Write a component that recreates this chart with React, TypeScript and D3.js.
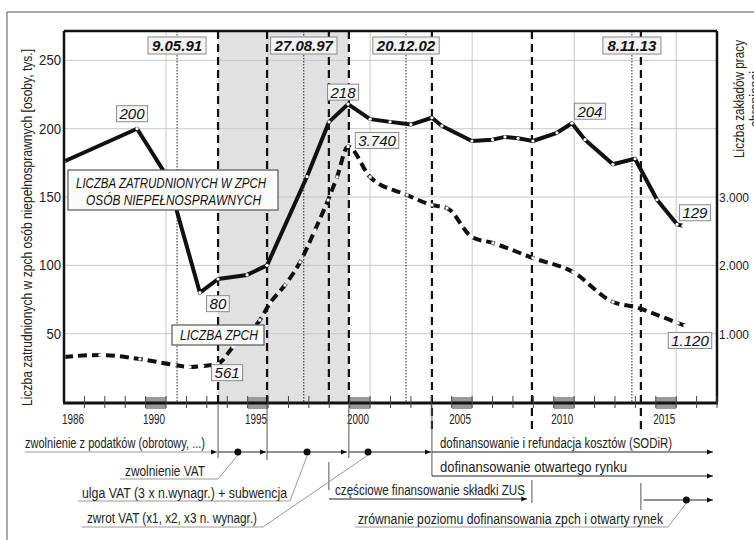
import React from 'react';
import * as d3 from 'd3';

// ---------- data ----------
const solidYears = [1985.0, 1988.58, 1990.05, 1991.66, 1992.55, 1993.97, 1994.95, 1996.91, 1997.99, 1998.92, 2000.0, 2000.98, 2002.0, 2003.03, 2003.52, 2004.99, 2006.0, 2006.61, 2007.25, 2007.98, 2009.16, 2009.89, 2010.53, 2011.9, 2012.98, 2014.06, 2015.04, 2015.33];
const solidValues = [176, 200, 165, 80, 90, 93, 100, 165, 205, 218, 207, 205, 203, 208, 202, 191, 192, 194, 193, 191, 197, 204, 192, 174, 178, 148, 130, 129];

const zpchYears = [1985.0, 1986.76, 1988.72, 1990.44, 1991.17, 1991.8, 1992.55, 1993.28, 1994.6, 1995.1, 1995.83, 1996.57, 1997.3, 1997.94, 1998.38, 1998.92, 2000.0, 2001.81, 2003.03, 2003.77, 2004.99, 2006.02, 2007.98, 2009.94, 2011.9, 2012.98, 2015.09, 2015.43];
const zpchValues = [659, 688, 629, 542, 512, 527, 561, 805, 1200, 1449, 1712, 2049, 2517, 2956, 3293, 3740, 3293, 3030, 2883, 2839, 2415, 2327, 2108, 1903, 1464, 1390, 1156, 1120];

const leftTicks = [50, 100, 150, 200, 250];
const rightTicks = [1000, 2000, 3000];
const rightTickLabels = ['1.000', '2.000', '3.000'];
const xTickYears = [1990, 1995, 2000, 2005, 2010, 2015];
const firstYearLabel = '1986';

const dottedDates = [1990.54, 1996.75, 2001.76, 2012.83];
const dateLabels = ['9.05.91', '27.08.97', '20.12.02', '8.11.13'];
const dashedDates = [1992.55, 1994.95, 1997.98, 1998.96, 2003.03, 2007.93, 2013.27];
const longDashedDates = [2003.03, 2007.93, 2013.27];
const shadedPeriod = [1992.55, 1998.96];

const solidLabelTexts = ['200', '80', '218', '204', '129'];
const solidLabelIdx = [1, 3, 9, 21, 27];
const zpchLabelTexts = ['561', '3.740', '1.120'];
const zpchLabelIdx = [6, 15, 27];

const titleLeft = 'Liczba zatrudnionych w zpch osób niepełnosprawnych [osoby, tys.]';
const titleRight1 = 'Liczba zakładów pracy';
const titleRight2 = 'chronionej';
const seriesLabel1 = ['LICZBA ZATRUDNIONYCH W ZPCH', 'OSÓB NIEPEŁNOSPRAWNYCH'];
const seriesLabel2 = 'LICZBA ZPCH';

// ---------- layout ----------
const W = 754, H = 540;
const L = 64, R = 717, T = 31, B = 402;
const SANS = "'Liberation Sans', Arial, sans-serif";

const solidLabelOff = [[-5, -15], [18, 11], [-5, -12], [18, -12], [12, -13]];
const zpchLabelOff = [[9, 9], [29, -6], [5, 15]];

function estW(s: string, size: number) {
  let w = 0;
  for (const ch of s) w += (ch === '.' || ch === ',') ? 0.278 : 0.556;
  return w * size;
}

function NT(props: any) {
  const { len, size = 14, italic, children, ...rest } = props;
  return (
    <text {...rest} textLength={len} lengthAdjust="spacingAndGlyphs" fontFamily={SANS} fontSize={size}
      fontStyle={italic ? 'italic' : undefined} fill={rest.fill || '#222'}>{children}</text>
  );
}

export default function App() {
  const x = d3.scaleLinear().domain([1985, 2017]).range([L, R]);
  const yL = d3.scaleLinear().domain([0, 271.5]).range([B, T]);
  const yR = d3.scaleLinear().domain([0, 5430]).range([B, T]);

  const solidLine = d3.line<number>().x((_, i) => x(solidYears[i])).y(d => yL(d)).curve(d3.curveLinear);
  const zpchLine = d3.line<number>().x((_, i) => x(zpchYears[i])).y(d => yR(d)).curve(d3.curveMonotoneX);

  const minorYears = d3.range(1986, 2018);

  const numBox = (key: string, cx: number, cy: number, t: string) => {
    const w = estW(t, 15) + 6;
    return (
      <g key={key}>
        <rect x={cx - w / 2} y={cy - 8} width={w} height={16} fill="#f7f7f7" stroke="#8a8a8a" strokeWidth={1} />
        <text x={cx} y={cy + 5.5} textAnchor="middle" fontFamily={SANS} fontStyle="italic" fontSize={15} fill="#111">{t}</text>
      </g>
    );
  };

  const rowY1 = 452, rowY2 = 476, rowY3 = 499, rowY4 = 500;

  return (
    <svg width={W} height={H} style={{ position: 'absolute', left: 0, top: 0, background: '#fff' }}>
      <defs>
        <marker id="arr" viewBox="0 0 6 6" refX={6} refY={3} markerWidth={6} markerHeight={6} markerUnits="userSpaceOnUse" orient="auto">
          <path d="M0,0.5 L6,3 L0,5.5 z" fill="#111" />
        </marker>
      </defs>
      {/* frame */}
      <line x1={7} y1={12} x2={W} y2={12} stroke="#555" strokeWidth={1} />
      <line x1={7} y1={12} x2={7} y2={H} stroke="#555" strokeWidth={1} />

      {/* shaded period */}
      <rect x={x(shadedPeriod[0])} y={T} width={x(shadedPeriod[1]) - x(shadedPeriod[0])} height={B - T} fill="#e1e1e1" />

      {/* grid */}
      {leftTicks.map(v => <line key={'hg' + v} x1={L} x2={R} y1={yL(v)} y2={yL(v)} stroke="#c8c8c8" strokeWidth={1} />)}
      {xTickYears.map(v => <line key={'vg' + v} x1={x(v)} x2={x(v)} y1={T} y2={B} stroke="#c8c8c8" strokeWidth={1} />)}

      {/* x label bars */}
      {xTickYears.map(v => <rect key={'xb' + v} x={x(v - 1)} y={397} width={x(v) - x(v - 1)} height={12} fill="#9a9a9a" />)}

      {/* event lines */}
      {dottedDates.map(d => <line key={'dt' + d} x1={x(d)} x2={x(d)} y1={T} y2={B} stroke="#222" strokeWidth={1} strokeDasharray="1.5,1.5" />)}
      {dashedDates.map(d => (
        <line key={'ds' + d} x1={x(d)} x2={x(d)} y1={T} y2={longDashedDates.includes(d) ? 430 : B} stroke="#111" strokeWidth={2.2} strokeDasharray="8,5" />
      ))}

      {/* series */}
      <path d={zpchLine(zpchValues) || ''} fill="none" stroke="#111" strokeWidth={4} strokeDasharray="9,5" />
      {zpchValues.map((v, i) => <rect key={'zm' + i} x={x(zpchYears[i]) - 1.5} y={yR(v) - 1.5} width={3} height={3} fill="#fff" />)}
      <path d={solidLine(solidValues) || ''} fill="none" stroke="#111" strokeWidth={4} strokeLinejoin="round" />
      {solidValues.map((v, i) => <circle key={'sm' + i} cx={x(solidYears[i])} cy={yL(v)} r={1.6} fill="#fff" />)}

      {/* plot border */}
      <line x1={L} x2={R} y1={T} y2={T} stroke="#111" strokeWidth={2.5} />
      <line x1={L} x2={L} y1={T} y2={B} stroke="#111" strokeWidth={2.5} />
      <line x1={R} x2={R} y1={T} y2={B} stroke="#111" strokeWidth={2.5} />
      <line x1={L - 1} x2={R + 1} y1={B + 1} y2={B + 1} stroke="#111" strokeWidth={3} />
      {minorYears.map(v => <line key={'mt' + v} x1={x(v)} x2={x(v)} y1={396} y2={408} stroke="#444" strokeWidth={1} />)}

      {/* tick labels */}
      {leftTicks.map(v => <NT key={'lt' + v} x={61} y={yL(v) + 5} textAnchor="end" size={15} len={String(v).length * 7.3}>{v}</NT>)}
      {rightTicks.map((v, i) => <NT key={'rt' + v} x={719} y={yR(v) + 5} size={13} len={30}>{rightTickLabels[i]}</NT>)}
      <NT x={62} y={424} size={15} len={22}>{firstYearLabel}</NT>
      {xTickYears.map(v => <NT key={'xt' + v} x={x(v) - 23} y={424} size={15} len={22}>{v}</NT>)}

      {/* titles */}
      <NT transform={`translate(32,228) rotate(-90)`} x={-178} y={0} size={14} len={357}>{titleLeft}</NT>
      <NT transform={`translate(744,99) rotate(-90)`} x={-59} y={0} size={14} len={118}>{titleRight1}</NT>
      <NT transform={`translate(760,99) rotate(-90)`} x={-28} y={0} size={14} len={56}>{titleRight2}</NT>

      {/* date labels */}
      {dottedDates.map((d, i) => {
        const w = estW(dateLabels[i], 15) + 8;
        return (
          <g key={'dl' + i}>
            <rect x={x(d) - w / 2} y={37} width={w} height={17} fill="#f4f4f4" stroke="#8a8a8a" strokeWidth={1} />
            <text x={x(d)} y={51} textAnchor="middle" fontFamily={SANS} fontWeight="bold" fontStyle="italic" fontSize={15} fill="#111">{dateLabels[i]}</text>
          </g>
        );
      })}

      {/* series labels */}
      <g>
        <rect x={68} y={170} width={210} height={40} fill="#fbfbfb" stroke="#555" strokeWidth={1.2} />
        <NT x={76} y={188} size={14} len={190} italic fill="#111">{seriesLabel1[0]}</NT>
        <NT x={86} y={205} size={14} len={175} italic fill="#111">{seriesLabel1[1]}</NT>
      </g>
      <g>
        <rect x={172} y={325} width={92} height={20} fill="#fbfbfb" stroke="#555" strokeWidth={1.2} />
        <NT x={180} y={340} size={14} len={78} italic fill="#111">{seriesLabel2}</NT>
      </g>

      {/* value labels */}
      {solidLabelIdx.map((idx, k) => numBox('sl' + k, x(solidYears[idx]) + solidLabelOff[k][0], yL(solidValues[idx]) + solidLabelOff[k][1], solidLabelTexts[k]))}
      {zpchLabelIdx.map((idx, k) => numBox('zl' + k, x(zpchYears[idx]) + zpchLabelOff[k][0], yR(zpchValues[idx]) + zpchLabelOff[k][1], zpchLabelTexts[k]))}

      {/* bottom annotations */}
      <g stroke="#555" strokeWidth={1}>
        <line x1={x(1992.55)} x2={x(1992.55)} y1={405} y2={458} />
        <line x1={x(1994.95)} x2={x(1994.95)} y1={405} y2={460} />
        <line x1={x(1998.96)} x2={x(1998.96)} y1={405} y2={458} />
        <line x1={x(2003.03)} x2={x(2003.03)} y1={405} y2={rowY2} />
        <line x1={x(1997.98)} x2={x(1997.98)} y1={462} y2={490} />
        <line x1={x(2007.93)} x2={x(2007.93)} y1={480} y2={503} />
        <line x1={x(2013.27)} x2={x(2013.27)} y1={483} y2={510} />
      </g>
      <g stroke="#999" strokeWidth={1} fill="none">
        <line x1={25} x2={x(1992.55) - 1} y1={rowY1} y2={rowY1} markerEnd="url(#arr)" />
        <polyline points={`120,479 218,479 ${x(1993.52)},${rowY1 + 3}`} />
        <polyline points={`78,501 290,501 ${x(1996.91)},${rowY1 + 4}`} />
        <polyline points={`82,527 263,527 ${x(1999.9)},${rowY1 + 3}`} />
        <polyline points={`355,527 668,527 ${x(2015.5)},${rowY4 + 3}`} />
      </g>
      <g stroke="#222" strokeWidth={1} fill="none">
        <line x1={x(1992.55)} x2={x(1994.95) - 1} y1={rowY1} y2={rowY1} markerEnd="url(#arr)" />
        <line x1={x(1994.95)} x2={x(1998.96) - 2} y1={rowY1} y2={rowY1} markerEnd="url(#arr)" />
        <line x1={x(1998.96)} x2={x(2003.03) - 1} y1={rowY1} y2={rowY1} markerEnd="url(#arr)" />
        <line x1={x(2003.03)} x2={x(2016.8)} y1={rowY1} y2={rowY1} markerEnd="url(#arr)" />
        <line x1={x(2003.03)} x2={x(2016.8)} y1={rowY2} y2={rowY2} markerEnd="url(#arr)" />
        <line x1={x(1997.98)} x2={x(2007.7)} y1={rowY3} y2={rowY3} markerEnd="url(#arr)" />
        <line x1={x(2013.4)} x2={x(2016.8)} y1={rowY4} y2={rowY4} markerEnd="url(#arr)" />
      </g>
      {[1993.52, 1996.91, 1999.9].map(d => <circle key={'ad' + d} cx={x(d)} cy={rowY1} r={3.5} fill="#111" />)}
      <circle cx={x(2015.5)} cy={rowY4} r={3.5} fill="#111" />

      <NT x={25} y={448} len={180}>zwolnienie z podatków (obrotowy, ...)</NT>
      <NT x={125} y={476} len={80}>zwolnienie VAT</NT>
      <NT x={82} y={498} len={205}>ulga VAT (3 x n.wynagr.) + subwencja</NT>
      <NT x={87} y={523} len={170}>zwrot VAT (x1, x2, x3 n. wynagr.)</NT>
      <NT x={440} y={448} len={232}>dofinansowanie i refundacja kosztów (SODiR)</NT>
      <NT x={440} y={472} len={187}>dofinansowanie otwartego rynku</NT>
      <NT x={335} y={495} len={190}>częściowe finansowanie składki ZUS</NT>
      <NT x={358} y={524} len={305}>zrównanie poziomu dofinansowania zpch i otwarty rynek</NT>
    </svg>
  );
}
